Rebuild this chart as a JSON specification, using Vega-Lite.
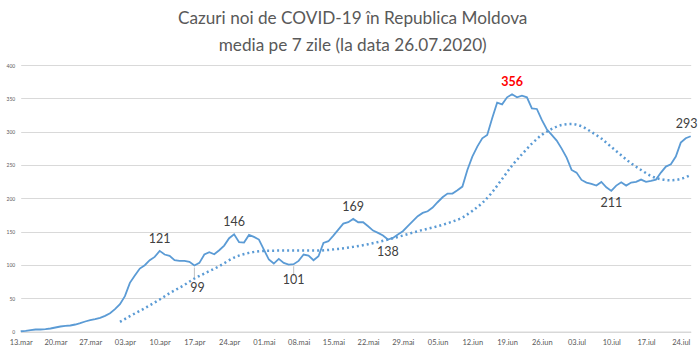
{
  "$schema": "https://vega.github.io/schema/vega-lite/v6.json",
  "width": 670,
  "height": 266.5,
  "autosize": {"type": "none"},
  "padding": {"left": 20.7, "top": 65, "right": 8.6, "bottom": 20.5},
  "background": "white",
  "config": {"view": {"stroke": null}, "font": "Lato"},
  "title": {
    "text": ["Cazuri noi de COVID-19 în Republica Moldova", "media pe 7 zile (la data 26.07.2020)"],
    "font": "Lato",
    "fontSize": 17.2,
    "fontWeight": "normal",
    "color": "#595959",
    "lineHeight": 27,
    "anchor": "middle",
    "dx": -3,
    "offset": 9
  },
  "datasets": {
    "daily": [
      {"date": "2020-03-13T00:00:00", "value": 0.4},
      {"date": "2020-03-14T00:00:00", "value": 1},
      {"date": "2020-03-15T00:00:00", "value": 2},
      {"date": "2020-03-16T00:00:00", "value": 3},
      {"date": "2020-03-17T00:00:00", "value": 3},
      {"date": "2020-03-18T00:00:00", "value": 3.5},
      {"date": "2020-03-19T00:00:00", "value": 4.5},
      {"date": "2020-03-20T00:00:00", "value": 6},
      {"date": "2020-03-21T00:00:00", "value": 7.5},
      {"date": "2020-03-22T00:00:00", "value": 8.5},
      {"date": "2020-03-23T00:00:00", "value": 9},
      {"date": "2020-03-24T00:00:00", "value": 10.5},
      {"date": "2020-03-25T00:00:00", "value": 12.5},
      {"date": "2020-03-26T00:00:00", "value": 15},
      {"date": "2020-03-27T00:00:00", "value": 17},
      {"date": "2020-03-28T00:00:00", "value": 18.5},
      {"date": "2020-03-29T00:00:00", "value": 20.5},
      {"date": "2020-03-30T00:00:00", "value": 23.5},
      {"date": "2020-03-31T00:00:00", "value": 27.5},
      {"date": "2020-04-01T00:00:00", "value": 33.5},
      {"date": "2020-04-02T00:00:00", "value": 41},
      {"date": "2020-04-03T00:00:00", "value": 53},
      {"date": "2020-04-04T00:00:00", "value": 73},
      {"date": "2020-04-05T00:00:00", "value": 84},
      {"date": "2020-04-06T00:00:00", "value": 94.5},
      {"date": "2020-04-07T00:00:00", "value": 99.5},
      {"date": "2020-04-08T00:00:00", "value": 107},
      {"date": "2020-04-09T00:00:00", "value": 112},
      {"date": "2020-04-10T00:00:00", "value": 121},
      {"date": "2020-04-11T00:00:00", "value": 115.5},
      {"date": "2020-04-12T00:00:00", "value": 113.5},
      {"date": "2020-04-13T00:00:00", "value": 107},
      {"date": "2020-04-14T00:00:00", "value": 106},
      {"date": "2020-04-15T00:00:00", "value": 106},
      {"date": "2020-04-16T00:00:00", "value": 104.5},
      {"date": "2020-04-17T00:00:00", "value": 99},
      {"date": "2020-04-18T00:00:00", "value": 103},
      {"date": "2020-04-19T00:00:00", "value": 115.5},
      {"date": "2020-04-20T00:00:00", "value": 119},
      {"date": "2020-04-21T00:00:00", "value": 116},
      {"date": "2020-04-22T00:00:00", "value": 122},
      {"date": "2020-04-23T00:00:00", "value": 129},
      {"date": "2020-04-24T00:00:00", "value": 140},
      {"date": "2020-04-25T00:00:00", "value": 146},
      {"date": "2020-04-26T00:00:00", "value": 134},
      {"date": "2020-04-27T00:00:00", "value": 133.5},
      {"date": "2020-04-28T00:00:00", "value": 145},
      {"date": "2020-04-29T00:00:00", "value": 142},
      {"date": "2020-04-30T00:00:00", "value": 138},
      {"date": "2020-05-01T00:00:00", "value": 123},
      {"date": "2020-05-02T00:00:00", "value": 108},
      {"date": "2020-05-03T00:00:00", "value": 102},
      {"date": "2020-05-04T00:00:00", "value": 109},
      {"date": "2020-05-05T00:00:00", "value": 103},
      {"date": "2020-05-06T00:00:00", "value": 100.5},
      {"date": "2020-05-07T00:00:00", "value": 101},
      {"date": "2020-05-08T00:00:00", "value": 106},
      {"date": "2020-05-09T00:00:00", "value": 115.5},
      {"date": "2020-05-10T00:00:00", "value": 114},
      {"date": "2020-05-11T00:00:00", "value": 107},
      {"date": "2020-05-12T00:00:00", "value": 113},
      {"date": "2020-05-13T00:00:00", "value": 133},
      {"date": "2020-05-14T00:00:00", "value": 135.5},
      {"date": "2020-05-15T00:00:00", "value": 144},
      {"date": "2020-05-16T00:00:00", "value": 153},
      {"date": "2020-05-17T00:00:00", "value": 162},
      {"date": "2020-05-18T00:00:00", "value": 164},
      {"date": "2020-05-19T00:00:00", "value": 169},
      {"date": "2020-05-20T00:00:00", "value": 164},
      {"date": "2020-05-21T00:00:00", "value": 164},
      {"date": "2020-05-22T00:00:00", "value": 158},
      {"date": "2020-05-23T00:00:00", "value": 151.5},
      {"date": "2020-05-24T00:00:00", "value": 148},
      {"date": "2020-05-25T00:00:00", "value": 144},
      {"date": "2020-05-26T00:00:00", "value": 138},
      {"date": "2020-05-27T00:00:00", "value": 140.5},
      {"date": "2020-05-28T00:00:00", "value": 145.5},
      {"date": "2020-05-29T00:00:00", "value": 150.5},
      {"date": "2020-05-30T00:00:00", "value": 158},
      {"date": "2020-05-31T00:00:00", "value": 165.5},
      {"date": "2020-06-01T00:00:00", "value": 173},
      {"date": "2020-06-02T00:00:00", "value": 178},
      {"date": "2020-06-03T00:00:00", "value": 180.5},
      {"date": "2020-06-04T00:00:00", "value": 186},
      {"date": "2020-06-05T00:00:00", "value": 194},
      {"date": "2020-06-06T00:00:00", "value": 201.5},
      {"date": "2020-06-07T00:00:00", "value": 207},
      {"date": "2020-06-08T00:00:00", "value": 207},
      {"date": "2020-06-09T00:00:00", "value": 212},
      {"date": "2020-06-10T00:00:00", "value": 217.5},
      {"date": "2020-06-11T00:00:00", "value": 242.5},
      {"date": "2020-06-12T00:00:00", "value": 262.5},
      {"date": "2020-06-13T00:00:00", "value": 277.5},
      {"date": "2020-06-14T00:00:00", "value": 290},
      {"date": "2020-06-15T00:00:00", "value": 295},
      {"date": "2020-06-16T00:00:00", "value": 320},
      {"date": "2020-06-17T00:00:00", "value": 343.5},
      {"date": "2020-06-18T00:00:00", "value": 341},
      {"date": "2020-06-19T00:00:00", "value": 351.5},
      {"date": "2020-06-20T00:00:00", "value": 356},
      {"date": "2020-06-21T00:00:00", "value": 351.5},
      {"date": "2020-06-22T00:00:00", "value": 354},
      {"date": "2020-06-23T00:00:00", "value": 351.5},
      {"date": "2020-06-24T00:00:00", "value": 335},
      {"date": "2020-06-25T00:00:00", "value": 334},
      {"date": "2020-06-26T00:00:00", "value": 317.5},
      {"date": "2020-06-27T00:00:00", "value": 303.5},
      {"date": "2020-06-28T00:00:00", "value": 295},
      {"date": "2020-06-29T00:00:00", "value": 286.5},
      {"date": "2020-06-30T00:00:00", "value": 274.5},
      {"date": "2020-07-01T00:00:00", "value": 261},
      {"date": "2020-07-02T00:00:00", "value": 242.5},
      {"date": "2020-07-03T00:00:00", "value": 238.5},
      {"date": "2020-07-04T00:00:00", "value": 227.5},
      {"date": "2020-07-05T00:00:00", "value": 223.5},
      {"date": "2020-07-06T00:00:00", "value": 221.5},
      {"date": "2020-07-07T00:00:00", "value": 219},
      {"date": "2020-07-08T00:00:00", "value": 224.5},
      {"date": "2020-07-09T00:00:00", "value": 216.5},
      {"date": "2020-07-10T00:00:00", "value": 211},
      {"date": "2020-07-11T00:00:00", "value": 219},
      {"date": "2020-07-12T00:00:00", "value": 224},
      {"date": "2020-07-13T00:00:00", "value": 219},
      {"date": "2020-07-14T00:00:00", "value": 223.5},
      {"date": "2020-07-15T00:00:00", "value": 224.5},
      {"date": "2020-07-16T00:00:00", "value": 228},
      {"date": "2020-07-17T00:00:00", "value": 224.5},
      {"date": "2020-07-18T00:00:00", "value": 226},
      {"date": "2020-07-19T00:00:00", "value": 228},
      {"date": "2020-07-20T00:00:00", "value": 238.5},
      {"date": "2020-07-21T00:00:00", "value": 247.5},
      {"date": "2020-07-22T00:00:00", "value": 251},
      {"date": "2020-07-23T00:00:00", "value": 262.5},
      {"date": "2020-07-24T00:00:00", "value": 283.5},
      {"date": "2020-07-25T00:00:00", "value": 290},
      {"date": "2020-07-26T00:00:00", "value": 293}
    ],
    "trend": [
      {"date": "2020-04-02T00:00:00", "value": 14.5},
      {"date": "2020-04-04T00:00:00", "value": 23},
      {"date": "2020-04-07T00:00:00", "value": 35},
      {"date": "2020-04-10T00:00:00", "value": 48},
      {"date": "2020-04-12T00:00:00", "value": 57.5},
      {"date": "2020-04-15T00:00:00", "value": 70},
      {"date": "2020-04-17T00:00:00", "value": 79.5},
      {"date": "2020-04-19T00:00:00", "value": 87},
      {"date": "2020-04-22T00:00:00", "value": 98},
      {"date": "2020-04-25T00:00:00", "value": 111},
      {"date": "2020-04-28T00:00:00", "value": 118},
      {"date": "2020-05-01T00:00:00", "value": 121},
      {"date": "2020-05-05T00:00:00", "value": 121.5},
      {"date": "2020-05-09T00:00:00", "value": 121.5},
      {"date": "2020-05-12T00:00:00", "value": 121.5},
      {"date": "2020-05-16T00:00:00", "value": 124},
      {"date": "2020-05-19T00:00:00", "value": 127},
      {"date": "2020-05-22T00:00:00", "value": 131},
      {"date": "2020-05-26T00:00:00", "value": 138},
      {"date": "2020-05-29T00:00:00", "value": 144},
      {"date": "2020-06-01T00:00:00", "value": 150.5},
      {"date": "2020-06-05T00:00:00", "value": 158},
      {"date": "2020-06-08T00:00:00", "value": 165},
      {"date": "2020-06-10T00:00:00", "value": 171},
      {"date": "2020-06-12T00:00:00", "value": 181},
      {"date": "2020-06-14T00:00:00", "value": 193},
      {"date": "2020-06-16T00:00:00", "value": 209},
      {"date": "2020-06-18T00:00:00", "value": 229},
      {"date": "2020-06-20T00:00:00", "value": 249},
      {"date": "2020-06-22T00:00:00", "value": 266},
      {"date": "2020-06-24T00:00:00", "value": 282},
      {"date": "2020-06-26T00:00:00", "value": 295},
      {"date": "2020-06-28T00:00:00", "value": 304},
      {"date": "2020-06-30T00:00:00", "value": 310},
      {"date": "2020-07-02T00:00:00", "value": 311.5},
      {"date": "2020-07-04T00:00:00", "value": 308},
      {"date": "2020-07-06T00:00:00", "value": 299.5},
      {"date": "2020-07-08T00:00:00", "value": 289.5},
      {"date": "2020-07-10T00:00:00", "value": 277},
      {"date": "2020-07-12T00:00:00", "value": 264.5},
      {"date": "2020-07-14T00:00:00", "value": 252.5},
      {"date": "2020-07-16T00:00:00", "value": 242.5},
      {"date": "2020-07-18T00:00:00", "value": 233.5},
      {"date": "2020-07-20T00:00:00", "value": 228.5},
      {"date": "2020-07-22T00:00:00", "value": 227},
      {"date": "2020-07-24T00:00:00", "value": 229},
      {"date": "2020-07-26T00:00:00", "value": 235}
    ],
    "labels": [
      {"date": "2020-04-10T00:00:00", "value": 121, "label": "121"},
      {"date": "2020-04-17T00:00:00", "value": 99, "label": "99"},
      {"date": "2020-04-25T00:00:00", "value": 146, "label": "146"},
      {"date": "2020-05-07T00:00:00", "value": 101, "label": "101"},
      {"date": "2020-05-19T00:00:00", "value": 169, "label": "169"},
      {"date": "2020-05-26T00:00:00", "value": 138, "label": "138"},
      {"date": "2020-06-20T00:00:00", "value": 356, "label": "356"},
      {"date": "2020-07-10T00:00:00", "value": 211, "label": "211"},
      {"date": "2020-07-26T00:00:00", "value": 293, "label": "293"}
    ]
  },
  "encoding": {
    "x": {
      "field": "date",
      "type": "temporal",
      "scale": {"domain": [{"year": 2020, "month": 3, "date": 13}, {"year": 2020, "month": 7, "date": 26}]},
      "axis": {
        "title": null,
        "grid": false,
        "ticks": false,
        "domainColor": "#d9d9d9",
        "labelColor": "#595959",
        "labelFont": "Lato",
        "labelFontSize": 7.5,
        "labelPadding": 7,
        "labelFlush": false,
        "labelOverlap": false,
        "values": [
          {"year": 2020, "month": 3, "date": 13}, {"year": 2020, "month": 3, "date": 20}, {"year": 2020, "month": 3, "date": 27},
          {"year": 2020, "month": 4, "date": 3}, {"year": 2020, "month": 4, "date": 10}, {"year": 2020, "month": 4, "date": 17}, {"year": 2020, "month": 4, "date": 24},
          {"year": 2020, "month": 5, "date": 1}, {"year": 2020, "month": 5, "date": 8}, {"year": 2020, "month": 5, "date": 15}, {"year": 2020, "month": 5, "date": 22}, {"year": 2020, "month": 5, "date": 29},
          {"year": 2020, "month": 6, "date": 5}, {"year": 2020, "month": 6, "date": 12}, {"year": 2020, "month": 6, "date": 19}, {"year": 2020, "month": 6, "date": 26},
          {"year": 2020, "month": 7, "date": 3}, {"year": 2020, "month": 7, "date": 10}, {"year": 2020, "month": 7, "date": 17}, {"year": 2020, "month": 7, "date": 24}
        ],
        "labelExpr": "timeFormat(datum.value, '%d') + '.' + ['ian','feb','mar','apr','mai','iun','iul','aug','sep','oct','noi','dec'][month(datum.value)]"
      }
    },
    "y": {
      "field": "value",
      "type": "quantitative",
      "scale": {"domain": [0, 400]},
      "axis": {
        "title": null,
        "domain": false,
        "ticks": false,
        "values": [0, 50, 100, 150, 200, 250, 300, 350, 400],
        "gridColor": "#d9d9d9",
        "labelColor": "#595959",
        "labelFont": "Lato",
        "labelFontSize": 5,
        "labelPadding": 6
      }
    }
  },
  "layer": [
    {
      "data": {"name": "trend"},
      "mark": {"type": "line", "color": "#5b9bd5", "strokeWidth": 2.5, "strokeDash": [2, 3], "interpolate": "monotone"}
    },
    {
      "data": {"name": "daily"},
      "mark": {"type": "line", "color": "#5b9bd5", "strokeWidth": 1.8}
    },
    {
      "data": {"name": "labels"},
      "transform": [{"filter": "datum.value == 99 || datum.value == 101"}],
      "mark": {"type": "tick", "orient": "vertical", "color": "#a6a6a6", "thickness": 1, "size": 10, "yOffset": 7}
    },
    {
      "data": {"name": "labels"},
      "transform": [{"filter": "indexof([121, 146, 169], datum.value) >= 0"}],
      "mark": {"type": "text", "font": "Lato", "fontSize": 12.5, "color": "#404040", "baseline": "middle", "dy": -12},
      "encoding": {"text": {"field": "label"}}
    },
    {
      "data": {"name": "labels"},
      "transform": [{"filter": "datum.value == 293"}],
      "mark": {"type": "text", "font": "Lato", "fontSize": 12.5, "color": "#404040", "baseline": "middle", "dy": -12, "dx": -4},
      "encoding": {"text": {"field": "label"}}
    },
    {
      "data": {"name": "labels"},
      "transform": [{"filter": "datum.value == 99"}],
      "mark": {"type": "text", "font": "Lato", "fontSize": 12.5, "color": "#404040", "baseline": "middle", "dy": 22, "dx": 3},
      "encoding": {"text": {"field": "label"}}
    },
    {
      "data": {"name": "labels"},
      "transform": [{"filter": "datum.value == 101"}],
      "mark": {"type": "text", "font": "Lato", "fontSize": 12.5, "color": "#404040", "baseline": "middle", "dy": 16},
      "encoding": {"text": {"field": "label"}}
    },
    {
      "data": {"name": "labels"},
      "transform": [{"filter": "datum.value == 138 || datum.value == 211"}],
      "mark": {"type": "text", "font": "Lato", "fontSize": 12.5, "color": "#404040", "baseline": "middle", "dy": 12},
      "encoding": {"text": {"field": "label"}}
    },
    {
      "data": {"name": "labels"},
      "transform": [{"filter": "datum.value == 356"}],
      "mark": {"type": "text", "font": "Lato", "fontSize": 12.5, "fontWeight": "bold", "color": "#ff0000", "baseline": "middle", "dy": -12},
      "encoding": {"text": {"field": "label"}}
    }
  ]
}
